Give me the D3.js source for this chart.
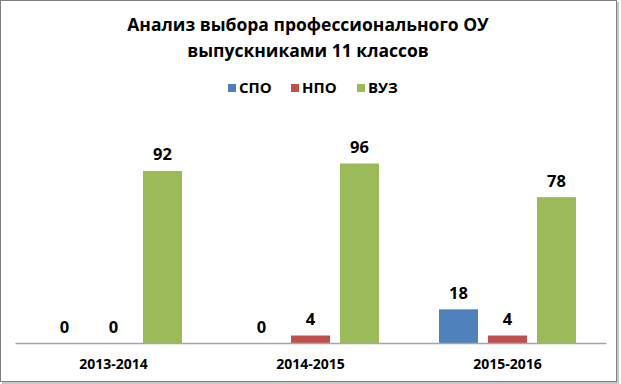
<!DOCTYPE html>
<html>
<head>
<meta charset="utf-8">
<script src="https://cdn.jsdelivr.net/npm/d3@7"></script>
<style>
  html, body { margin: 0; padding: 0; background: #fff; }
  svg { display: block; }
  text { font-family: "Open Sans", "Noto Sans", sans-serif; font-weight: bold; fill: #000; }
</style>
</head>
<body>
<svg id="chart" width="621" height="384"></svg>
<script>
const titleLines = ["Анализ выбора профессионального ОУ", "выпускниками 11 классов"];
const categories = ["2013-2014", "2014-2015", "2015-2016"];
const seriesNames = ["СПО", "НПО", "ВУЗ"];
const spoValues = [0, 0, 18];
const npoValues = [0, 4, 4];
const vuzValues = [92, 96, 78];
const seriesColors = ["#4F81BD", "#C0504D", "#9BBB59"];

const seriesValues = [spoValues, npoValues, vuzValues];
const svg = d3.select("#chart");

// frame with shadow
svg.append("rect").attr("x", 2).attr("y", 2).attr("width", 617).attr("height", 382)
  .attr("fill", "#c8c8c8");
svg.append("rect").attr("x", 0.5).attr("y", 0.5).attr("width", 616).attr("height", 381)
  .attr("fill", "#fff").attr("stroke", "#7f7f7f").attr("stroke-width", 1);

// title
svg.append("text").attr("x", 308).attr("y", 31).attr("text-anchor", "middle")
  .style("font-size", "17.5px").text(titleLines[0]);
svg.append("text").attr("x", 308).attr("y", 57).attr("text-anchor", "middle")
  .style("font-size", "17.5px").text(titleLines[1]);

// legend
const legendX = [228, 291, 357];
const legend = svg.append("g");
seriesNames.forEach((name, i) => {
  legend.append("rect").attr("x", legendX[i]).attr("y", 84).attr("width", 8).attr("height", 8)
    .attr("fill", seriesColors[i]);
  legend.append("text").attr("x", legendX[i] + 11).attr("y", 92.5)
    .style("font-size", "15px").text(name);
});

// scales
const x0 = d3.scaleBand().domain(categories).range([15, 606]);
const x1 = d3.scaleBand().domain(seriesNames).range([30, 167]).paddingInner(10 / 49);
const y = d3.scaleLinear().domain([0, 120]).range([343, 118.6]);

const groups = svg.append("g").selectAll("g").data(categories).join("g")
  .attr("transform", d => `translate(${x0(d)},0)`);

groups.each(function(cat, ci) {
  const g = d3.select(this);
  seriesNames.forEach((s, si) => {
    const v = seriesValues[si][ci];
    g.append("rect")
      .attr("x", x1(s)).attr("y", y(v))
      .attr("width", x1.bandwidth()).attr("height", y(0) - y(v))
      .attr("fill", seriesColors[si]);
    g.append("text")
      .attr("x", x1(s) + x1.bandwidth() / 2).attr("y", y(v) - 10.5)
      .attr("text-anchor", "middle").style("font-size", "16.5px").text(v);
  });
});

// axis
const axis = svg.append("g").attr("transform", `translate(0,${y(0)})`)
  .call(d3.axisBottom(x0).tickSize(0).tickSizeOuter(0));
axis.select(".domain").attr("stroke", "#a6a6a6").attr("stroke-width", 1.5);
axis.selectAll("text").attr("y", 26).attr("dy", 0)
  .style("font-size", "14px").style("font-family", "'Open Sans', sans-serif")
  .style("font-weight", "bold").attr("fill", "#000");
</script>
</body>
</html>
